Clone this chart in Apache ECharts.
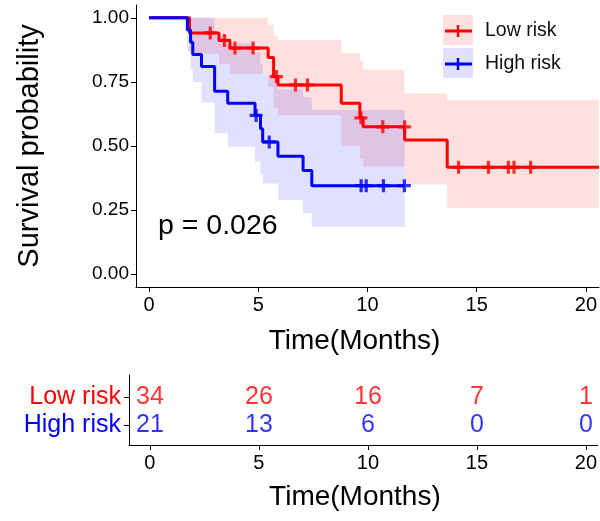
<!DOCTYPE html>
<html>
<head>
<meta charset="utf-8">
<script src="https://cdn.jsdelivr.net/npm/echarts@6/dist/echarts.min.js"></script>
<style>html,body{margin:0;padding:0;background:#fff;}#c{width:600px;height:521px;}</style>
</head>
<body>
<div id="c"></div>
<script>
// ---- data ----
const xTicks = [0, 5, 10, 15, 20];
const yTicks = [0, 0.25, 0.5, 0.75, 1];

// Kaplan-Meier step curves (time, survival)
const lowTimes = [0, 1.85, 3.2, 3.7, 5.45, 5.7, 5.9, 8.8, 9.65, 9.8, 11.7, 13.65, 20.6];
const lowSurv  = [1, 0.941, 0.912, 0.882, 0.845, 0.771, 0.738, 0.667, 0.61, 0.575, 0.523, 0.417, 0.417];
const highTimes = [0, 1.75, 1.9, 2.0, 2.4, 3.0, 3.6, 4.85, 5.1, 5.2, 5.9, 7.05, 7.45, 11.7];
const highSurv  = [1, 0.952, 0.905, 0.857, 0.81, 0.714, 0.667, 0.619, 0.567, 0.516, 0.46, 0.404, 0.345, 0.345];

// censor marks
const lowCensT = [2.8, 3.45, 3.93, 4.76, 5.83, 6.7, 7.25, 9.7, 10.7, 11.7, 14.17, 15.54, 16.45, 16.71, 17.47];
const lowCensS = [0.941, 0.912, 0.882, 0.882, 0.771, 0.738, 0.738, 0.61, 0.575, 0.575, 0.417, 0.417, 0.417, 0.417, 0.417];
const highCensT = [4.9, 5.5, 9.71, 9.94, 10.73, 11.69];
const highCensS = [0.619, 0.516, 0.345, 0.345, 0.345, 0.345];

// confidence bands (interval start times, upper, lower)
const lowBandT  = [1.85, 3.2, 3.7, 5.45, 5.7, 5.9, 8.8, 9.65, 9.8, 11.7, 13.65];
const lowBandHi = [1, 1, 1, 0.973, 0.93, 0.914, 0.862, 0.83, 0.797, 0.706, 0.68];
const lowBandLo = [0.86, 0.82, 0.78, 0.73, 0.65, 0.62, 0.50, 0.45, 0.42, 0.35, 0.257];
const lowBandEnd = 20.6;
const highBandT  = [1.75, 1.9, 2.0, 2.4, 3.0, 3.6, 4.85, 5.1, 5.2, 5.9, 7.05, 7.45];
const highBandHi = [1, 1, 1, 1, 0.93, 0.90, 0.865, 0.82, 0.78, 0.72, 0.69, 0.64];
const highBandLo = [0.87, 0.80, 0.75, 0.67, 0.55, 0.497, 0.44, 0.39, 0.354, 0.289, 0.237, 0.185];
const highBandEnd = 11.7;

// number at risk
const riskTimes = [0, 5, 10, 15, 20];
const riskLow  = [34, 26, 16, 7, 1];
const riskHigh = [21, 13, 6, 0, 0];
const groups = ['Low risk', 'High risk'];
const pText = 'p = 0.026';

// ---- chart ----
const RED = '#FF0000', BLUE = '#0000FF';
const FONT = 'Liberation Sans, Arial, sans-serif';
const chart = echarts.init(document.getElementById('c'), null, {renderer: 'canvas'});

function zip(a, b) { return a.map((v, i) => [v, b[i]]); }
function bandSeries(times, hi, lo, endT, fill) {
  return {
    type: 'custom', xAxisIndex: 0, yAxisIndex: 0, clip: true, silent: true,
    data: [[times[0], hi[0]]],
    renderItem: function (params, api) {
      const pts = [];
      for (let i = 0; i < times.length; i++) {
        const t1 = i + 1 < times.length ? times[i + 1] : endT;
        pts.push(api.coord([times[i], hi[i]]), api.coord([t1, hi[i]]));
      }
      for (let i = times.length - 1; i >= 0; i--) {
        const t1 = i + 1 < times.length ? times[i + 1] : endT;
        pts.push(api.coord([t1, lo[i]]), api.coord([times[i], lo[i]]));
      }
      return {type: 'polygon', shape: {points: pts}, style: {fill: fill}};
    },
    z: 1
  };
}
const plusPath = 'path://M3.75,0H6.25V3.75H10V6.25H6.25V10H3.75V6.25H0V3.75H3.75Z';

const axisLineStyle = {show: true, onZero: false, lineStyle: {color: '#000', width: 1}};
const tickStyle = {show: true, length: 5, lineStyle: {color: '#000', width: 1}};

const option = {
  animation: false,
  backgroundColor: '#fff',
  textStyle: {fontFamily: FONT},
  title: {
    text: pText, left: 158, top: 212, padding: 0,
    textStyle: {fontSize: 28.5, fontWeight: 'normal', color: '#000', fontFamily: FONT}
  },
  grid: [
    {show: false, left: 136, top: 5, right: 0, height: 282},
    {show: false, left: 129, top: 375, right: 2, height: 70}
  ],
  xAxis: [
    {
      gridIndex: 0, type: 'value', position: 'bottom', min: -0.6, max: 20.6,
      axisLine: axisLineStyle, splitLine: {show: false},
      axisTick: Object.assign({customValues: xTicks}, tickStyle),
      axisLabel: {customValues: xTicks, fontSize: 20, color: '#000', margin: 8, fontFamily: FONT},
      name: 'Time(Months)', nameLocation: 'middle', nameGap: 40,
      nameTextStyle: {fontSize: 28, color: '#000', fontFamily: FONT, padding: [0, 26, 0, 0]}
    },
    {
      gridIndex: 1, type: 'value', position: 'bottom', min: -0.96, max: 20.55,
      axisLine: axisLineStyle, splitLine: {show: false},
      axisTick: Object.assign({customValues: riskTimes}, tickStyle),
      axisLabel: {customValues: riskTimes, fontSize: 20, color: '#000', margin: 8, fontFamily: FONT},
      name: 'Time(Months)', nameLocation: 'middle', nameGap: 38,
      nameTextStyle: {fontSize: 28, color: '#000', fontFamily: FONT, padding: [0, 17, 0, 0]}
    }
  ],
  yAxis: [
    {
      gridIndex: 0, type: 'value', position: 'left', min: -0.05, max: 1.05,
      axisLine: axisLineStyle, splitLine: {show: false},
      axisTick: Object.assign({customValues: yTicks}, tickStyle),
      axisLabel: {customValues: yTicks, fontSize: 19, color: '#000', margin: 7, fontFamily: FONT,
                  formatter: v => v.toFixed(2)},
      name: 'Survival probability', nameLocation: 'middle', nameGap: 92,
      nameTextStyle: {fontSize: 29, color: '#000', fontFamily: FONT}
    },
    {
      gridIndex: 1, type: 'value', position: 'left', min: -0.7, max: 1.8,
      axisLine: axisLineStyle, splitLine: {show: false},
      axisTick: Object.assign({customValues: [0, 1]}, tickStyle),
      axisLabel: {customValues: [0, 1], margin: 8, fontFamily: FONT,
        formatter: v => v === 1 ? '{r|' + groups[0] + '}' : '{b|' + groups[1] + '}',
        rich: {r: {color: RED, fontSize: 25, fontFamily: FONT}, b: {color: BLUE, fontSize: 25, fontFamily: FONT}}}
    }
  ],
  graphic: [
    {type: 'rect', shape: {x: 443, y: 15, width: 30, height: 30}, style: {fill: 'rgba(255,0,0,0.12)'}},
    {type: 'rect', shape: {x: 443, y: 48, width: 30, height: 30}, style: {fill: 'rgba(0,0,255,0.12)'}},
    {type: 'line', shape: {x1: 445, y1: 31, x2: 472, y2: 31}, style: {stroke: RED, lineWidth: 3}},
    {type: 'line', shape: {x1: 458, y1: 25, x2: 458, y2: 37}, style: {stroke: RED, lineWidth: 2.5}},
    {type: 'line', shape: {x1: 445, y1: 64, x2: 472, y2: 64}, style: {stroke: BLUE, lineWidth: 3}},
    {type: 'line', shape: {x1: 458, y1: 58, x2: 458, y2: 70}, style: {stroke: BLUE, lineWidth: 2.5}},
    {type: 'text', x: 485, y: 31, style: {text: groups[0], fontSize: 19.5, fill: '#111', fontFamily: FONT, verticalAlign: 'middle'}},
    {type: 'text', x: 485, y: 64, style: {text: groups[1], fontSize: 19.5, fill: '#111', fontFamily: FONT, verticalAlign: 'middle'}}
  ],
  series: [
    bandSeries(lowBandT, lowBandHi, lowBandLo, lowBandEnd, 'rgba(255,0,0,0.12)'),
    bandSeries(highBandT, highBandHi, highBandLo, highBandEnd, 'rgba(0,0,255,0.12)'),
    {type: 'line', name: groups[0], step: 'end', data: zip(lowTimes, lowSurv), showSymbol: false,
     lineStyle: {color: RED, width: 3}, itemStyle: {color: RED}, z: 3, clip: true},
    {type: 'line', name: groups[1], step: 'end', data: zip(highTimes, highSurv), showSymbol: false,
     lineStyle: {color: BLUE, width: 3}, itemStyle: {color: BLUE}, z: 4, clip: true},
    {type: 'scatter', data: zip(lowCensT, lowCensS), symbol: plusPath, symbolSize: 13,
     itemStyle: {color: RED}, z: 5, silent: true},
    {type: 'scatter', data: zip(highCensT, highCensS), symbol: plusPath, symbolSize: 13,
     itemStyle: {color: BLUE}, z: 6, silent: true},
    {type: 'scatter', xAxisIndex: 1, yAxisIndex: 1, symbolSize: 1, itemStyle: {color: 'transparent'},
     data: riskTimes.map((t, i) => [t, 1, riskLow[i]]),
     label: {show: true, position: 'inside', formatter: p => String(p.value[2]), color: RED, fontSize: 25, fontFamily: FONT}},
    {type: 'scatter', xAxisIndex: 1, yAxisIndex: 1, symbolSize: 1, itemStyle: {color: 'transparent'},
     data: riskTimes.map((t, i) => [t, 0, riskHigh[i]]),
     label: {show: true, position: 'inside', formatter: p => String(p.value[2]), color: BLUE, fontSize: 25, fontFamily: FONT}}
  ]
};
chart.setOption(option);
</script>
</body>
</html>
